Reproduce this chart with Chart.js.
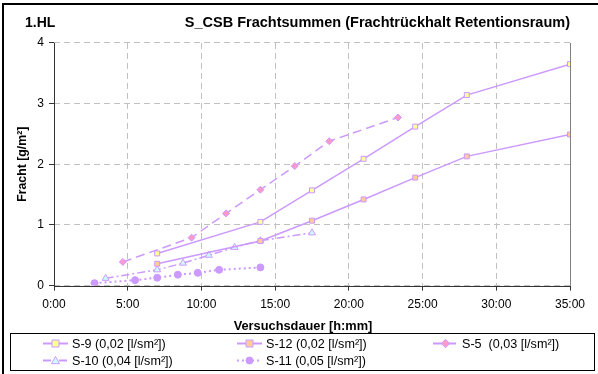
<!DOCTYPE html>
<html>
<head>
<meta charset="utf-8">
<script src="https://cdn.jsdelivr.net/npm/chart.js@4"></script>
<style>
  html, body { margin: 0; padding: 0; background: #fff; }
  #wrap { position: relative; width: 598px; height: 374px; }
</style>
</head>
<body>
<div id="wrap"><canvas id="chart" width="598" height="374"></canvas></div>
<script>
// time in hours, loads in g/m²
const hoursS9 = [7, 14, 17.5, 21, 24.5, 28, 35];
const valuesS9 = [0.53, 1.05, 1.57, 2.09, 2.62, 3.14, 3.65];
const hoursS12 = [7, 14, 17.5, 21, 24.5, 28, 35];
const valuesS12 = [0.36, 0.735, 1.07, 1.42, 1.78, 2.13, 2.49];
const hoursS5 = [4.67, 9.33, 11.67, 14, 16.33, 18.67, 23.33];
const valuesS5 = [0.39, 0.79, 1.19, 1.58, 1.97, 2.38, 2.77];
const hoursS10 = [3.5, 7, 8.75, 10.5, 12.25, 14, 17.5];
const valuesS10 = [0.12, 0.26, 0.37, 0.5, 0.63, 0.74, 0.87];
const hoursS11 = [2.75, 5.5, 7, 8.4, 9.75, 11.2, 14];
const valuesS11 = [0.04, 0.09, 0.13, 0.18, 0.21, 0.26, 0.30];

const seriesLabels = ['S-9 (0,02 [l/sm²])', 'S-12 (0,02 [l/sm²])', 'S-5  (0,03 [l/sm²])',
                      'S-10 (0,04 [l/sm²])', 'S-11 (0,05 [l/sm²])'];
const xTicks = [0, 5, 10, 15, 20, 25, 30, 35];
const yTicks = [0, 1, 2, 3, 4];

const LINE = '#cc99ff';
const FONT = "'Liberation Sans', Arial, sans-serif";

function pts(xs, ys) { return xs.map((x, i) => ({ x: x, y: ys[i] })); }

function series(label, data, style, fill, dash, radius, width) {
  return {
    label: label, data: data,
    borderColor: LINE, borderWidth: width || 1.5, borderDash: dash,
    pointStyle: style, pointRadius: radius, pointHoverRadius: radius,
    pointBackgroundColor: fill, pointBorderColor: LINE, pointBorderWidth: 1,
    fill: false, tension: 0
  };
}

const datasets = [
  series(seriesLabels[0], pts(hoursS9, valuesS9), 'rect', '#ffff99', [], 3.5),
  series(seriesLabels[1], pts(hoursS12, valuesS12), 'rect', '#ffcc99', [], 3.5),
  series(seriesLabels[2], pts(hoursS5, valuesS5), 'rectRot', '#ff99cc', [9, 5], 3.5),
  series(seriesLabels[3], pts(hoursS10, valuesS10), 'triangle', '#ccffff', [8, 3, 2, 3], 4),
  series(seriesLabels[4], pts(hoursS11, valuesS11), 'circle', LINE, [2, 3], 3.5, 2)
];

function marker(ctx, ds, x, y) {
  const r = ds.pointRadius;
  ctx.save();
  ctx.setLineDash([]);
  ctx.fillStyle = ds.pointBackgroundColor;
  ctx.strokeStyle = ds.pointBorderColor;
  ctx.lineWidth = 1;
  ctx.beginPath();
  if (ds.pointStyle === 'rect') {
    ctx.rect(x - r, y - r, 2 * r, 2 * r);
  } else if (ds.pointStyle === 'rectRot') {
    ctx.moveTo(x, y - r * 1.2); ctx.lineTo(x + r * 1.2, y);
    ctx.lineTo(x, y + r * 1.2); ctx.lineTo(x - r * 1.2, y); ctx.closePath();
  } else if (ds.pointStyle === 'triangle') {
    ctx.moveTo(x, y - r); ctx.lineTo(x + r, y + r * 0.8); ctx.lineTo(x - r, y + r * 0.8); ctx.closePath();
  } else {
    ctx.arc(x, y, r, 0, Math.PI * 2);
  }
  ctx.fill();
  ctx.stroke();
  ctx.restore();
}

const decorations = {
  id: 'decorations',
  afterDraw(chart) {
    const ctx = chart.ctx;
    const a = chart.chartArea;
    ctx.save();
    // outer frame
    ctx.fillStyle = '#000';
    ctx.fillRect(2, 3, 596, 2);
    ctx.fillRect(2, 3, 2, 371);
    // plot border right
    ctx.strokeStyle = '#808080';
    ctx.lineWidth = 1;
    ctx.beginPath();
    ctx.moveTo(Math.round(a.right) + 0.5, a.top);
    ctx.lineTo(Math.round(a.right) + 0.5, a.bottom);
    ctx.stroke();
    // axes
    ctx.strokeStyle = '#333';
    ctx.beginPath();
    ctx.moveTo(Math.round(a.left) + 0.5, a.top);
    ctx.lineTo(Math.round(a.left) + 0.5, Math.round(a.bottom) + 0.5);
    ctx.lineTo(a.right, Math.round(a.bottom) + 0.5);
    ctx.stroke();
    // corner label and x axis title
    ctx.fillStyle = '#000';
    ctx.font = 'bold 14px ' + FONT;
    ctx.textBaseline = 'middle';
    ctx.textAlign = 'left';
    ctx.fillText('1.HL', 25, 23);
    ctx.font = 'bold 12.8px ' + FONT;
    ctx.textAlign = 'center';
    ctx.fillText('Versuchsdauer [h:mm]', 303, 326);
    // legend box
    ctx.textAlign = 'left';
    ctx.strokeStyle = '#000';
    ctx.strokeRect(10.5, 333.5, 584, 37);
    const cols = [43, 237, 433];
    const rows = [343.5, 360.5];
    ctx.font = '12.6px ' + FONT;
    chart.data.datasets.forEach((ds, i) => {
      const x = cols[i % 3];
      const y = rows[Math.floor(i / 3)];
      ctx.save();
      ctx.strokeStyle = ds.borderColor;
      ctx.lineWidth = 2;
      ctx.setLineDash(ds.borderDash);
      ctx.beginPath();
      ctx.moveTo(x, y);
      ctx.lineTo(x + 25, y);
      ctx.stroke();
      ctx.restore();
      marker(ctx, ds, x + 12.5, y);
      ctx.fillStyle = '#000';
      ctx.fillText(ds.label, x + 29, y + 1);
    });
    ctx.restore();
  }
};

new Chart(document.getElementById('chart'), {
  type: 'line',
  data: { datasets: datasets },
  plugins: [decorations],
  options: {
    responsive: false,
    animation: false,
    layout: { padding: { top: 12, left: 14, right: 28, bottom: 55 } },
    plugins: {
      legend: { display: false },
      tooltip: { enabled: false },
      title: {
        display: true,
        text: 'S_CSB Frachtsummen (Frachtrückhalt Retentionsraum)',
        align: 'end',
        color: '#000',
        font: { family: FONT, size: 14.5, weight: 'bold' },
        padding: { top: 2.5, bottom: 11 }
      }
    },
    scales: {
      x: {
        type: 'linear',
        min: 0, max: 35,
        afterBuildTicks: s => { s.ticks = xTicks.map(v => ({ value: v })); },
        ticks: {
          color: '#000', padding: 7, maxRotation: 0,
          font: { family: FONT, size: 12 },
          callback: v => v + ':00'
        },
        grid: { color: '#c0c0c0', lineWidth: 1, tickColor: '#333', tickLength: 5, tickBorderDash: [] },
        border: { display: false, dash: [6, 4] },
        title: { display: false }
      },
      y: {
        min: 0, max: 4,
        afterBuildTicks: s => { s.ticks = yTicks.map(v => ({ value: v })); },
        afterFit: s => { s.width = 40; },
        ticks: { color: '#000', padding: 5, font: { family: FONT, size: 12 } },
        grid: { color: '#c0c0c0', lineWidth: 1, tickColor: '#333', tickLength: 5, tickBorderDash: [] },
        border: { display: false, dash: [6, 4] },
        title: {
          display: true, text: 'Fracht [g/m²]', color: '#000',
          font: { family: FONT, size: 12.3, weight: 'bold' },
          padding: { top: 1, bottom: 0 }
        }
      }
    }
  }
});
</script>
</body>
</html>
